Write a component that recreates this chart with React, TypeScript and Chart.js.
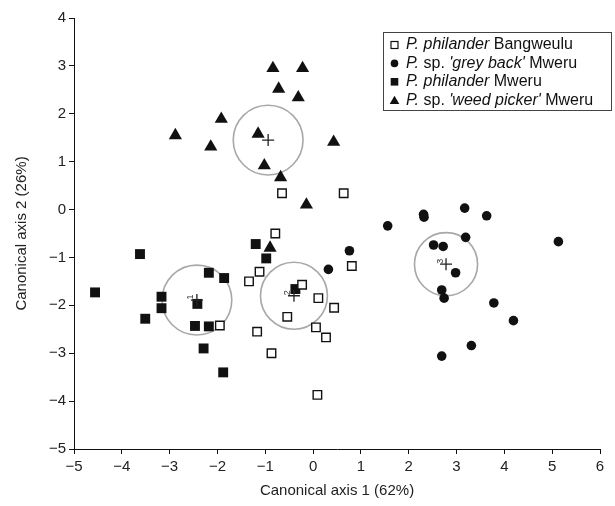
import { useEffect, useRef } from 'react';
import { Chart, registerables } from 'chart.js';

Chart.register(...registerables);

// ---- data ----
const bangweuluX = [-0.79, -1.12, -1.34, -0.23, 0.81, 0.11, 0.44, -0.54, 0.06, 0.27, -1.17, -0.87, 0.09, -1.95, -0.65, 0.64];
const bangweuluY = [-0.50, -1.30, -1.50, -1.57, -1.18, -1.85, -2.05, -2.24, -2.46, -2.67, -2.55, -3.00, -3.87, -2.42, 0.34, 0.34];

const greyBackX = [1.56, 2.31, 2.32, 3.17, 3.63, 5.13, 3.19, 2.52, 2.72, 2.98, 2.69, 2.74, 3.78, 4.19, 3.31, 2.69, 0.76, 0.32];
const greyBackY = [-0.34, -0.10, -0.16, 0.03, -0.13, -0.67, -0.58, -0.74, -0.77, -1.32, -1.68, -1.85, -1.95, -2.32, -2.84, -3.06, -0.86, -1.25];

const philMweruX = [-3.62, -4.56, -2.18, -1.86, -3.17, -3.17, -3.51, -2.42, -2.47, -2.18, -2.29, -1.88, -1.20, -0.98, -0.37];
const philMweruY = [-0.93, -1.73, -1.32, -1.43, -1.82, -2.06, -2.28, -1.97, -2.43, -2.44, -2.90, -3.40, -0.72, -1.02, -1.66];

const weedX = [-0.84, -0.22, -0.72, -0.31, -1.92, -2.88, -2.14, -1.15, 0.43, -1.02, -0.68, -0.14, -0.90];
const weedY = [2.95, 2.95, 2.52, 2.34, 1.89, 1.55, 1.31, 1.58, 1.41, 0.92, 0.67, 0.10, -0.80];

const centroidX = [-2.43, -0.40, 2.78, -0.94];
const centroidY = [-1.89, -1.80, -1.14, 1.45];
const centroidR = [0.73, 0.70, 0.66, 0.73];
const centroidLabels = ['1', '2', '3', ''];

const xMin = -5, xMax = 6, yMin = -5, yMax = 4;
const xTitle = 'Canonical axis 1 (62%)';
const yTitle = 'Canonical axis 2 (26%)';

// legend text segments: [text, italic]
const legendBangweulu: [string, boolean][] = [['P. philander', true], [' Bangweulu', false]];
const legendGreyBack: [string, boolean][] = [['P.', true], [' sp. ', false], ["'grey back'", true], [' Mweru', false]];
const legendPhilMweru: [string, boolean][] = [['P. philander', true], [' Mweru', false]];
const legendWeed: [string, boolean][] = [['P.', true], [' sp. ', false], ["'weed picker'", true], [' Mweru', false]];

const FONT = '"Liberation Sans", Arial, Helvetica, sans-serif';

const toPts = (xs: number[], ys: number[]) => xs.map((x, i) => ({ x, y: ys[i] }));
const minus = (v: number | string) => String(v).replace('-', '\u2212');

const circlesPlugin = {
  id: 'centroidCircles',
  beforeDatasetsDraw(chart: any) {
    const { ctx, scales } = chart;
    const xs = scales.x, ys = scales.y;
    ctx.save();
    ctx.strokeStyle = '#a8a8a8';
    ctx.lineWidth = 1.6;
    centroidX.forEach((cx, i) => {
      const px = xs.getPixelForValue(cx);
      const py = ys.getPixelForValue(centroidY[i]);
      const r = xs.getPixelForValue(cx + centroidR[i]) - px;
      ctx.beginPath();
      ctx.arc(px, py, r, 0, Math.PI * 2);
      ctx.stroke();
    });
    ctx.restore();
  },
  afterDatasetsDraw(chart: any) {
    const { ctx, scales } = chart;
    const xs = scales.x, ys = scales.y;
    ctx.save();
    ctx.fillStyle = '#333';
    ctx.font = `9px ${FONT}`;
    ctx.textAlign = 'center';
    ctx.textBaseline = 'middle';
    centroidX.forEach((cx, i) => {
      if (!centroidLabels[i]) return;
      const px = xs.getPixelForValue(cx);
      const py = ys.getPixelForValue(centroidY[i]);
      ctx.save();
      ctx.translate(px - 6, py - 3);
      ctx.rotate(-Math.PI / 2);
      ctx.fillText(centroidLabels[i], 0, 0);
      ctx.restore();
    });
    ctx.restore();
  },
};

const drawMarker = (ctx: CanvasRenderingContext2D, kind: string, x: number, y: number) => {
  ctx.save();
  ctx.fillStyle = '#111';
  ctx.strokeStyle = '#111';
  ctx.lineWidth = 1.2;
  if (kind === 'open') {
    ctx.fillStyle = '#fff';
    ctx.fillRect(x - 3.5, y - 3.5, 7, 7);
    ctx.strokeRect(x - 3.5, y - 3.5, 7, 7);
  } else if (kind === 'circle') {
    ctx.beginPath();
    ctx.arc(x, y, 3.8, 0, Math.PI * 2);
    ctx.fill();
  } else if (kind === 'square') {
    ctx.fillRect(x - 3.8, y - 3.8, 7.6, 7.6);
  } else {
    ctx.beginPath();
    ctx.moveTo(x, y - 4.5);
    ctx.lineTo(x + 4.8, y + 3.8);
    ctx.lineTo(x - 4.8, y + 3.8);
    ctx.closePath();
    ctx.fill();
  }
  ctx.restore();
};

const legendPlugin = {
  id: 'mixedLegend',
  afterDraw(chart: any) {
    const { ctx } = chart;
    const rows: [string, [string, boolean][]][] = [
      ['open', legendBangweulu],
      ['circle', legendGreyBack],
      ['square', legendPhilMweru],
      ['triangle', legendWeed],
    ];
    const left = 383, top = 32, width = 228, height = 78, rowH = 18.4;
    ctx.save();
    ctx.fillStyle = '#fff';
    ctx.fillRect(left, top, width, height);
    ctx.strokeStyle = '#444';
    ctx.lineWidth = 1;
    ctx.strokeRect(left + 0.5, top + 0.5, width, height);
    ctx.textBaseline = 'middle';
    ctx.textAlign = 'left';
    rows.forEach(([kind, segs], i) => {
      const y = top + 13 + i * rowH;
      drawMarker(ctx, kind, left + 11.5, y);
      let x = left + 23;
      segs.forEach(([t, it]) => {
        ctx.font = `${it ? 'italic ' : ''}16px ${FONT}`;
        ctx.fillStyle = '#111';
        ctx.fillText(t, x, y);
        x += ctx.measureText(t).width;
      });
    });
    ctx.restore();
  },
};

export default function App() {
  const ref = useRef<HTMLCanvasElement | null>(null);
  useEffect(() => {
    if (!ref.current) return;
    const chart = new Chart(ref.current, {
      type: 'scatter',
      data: {
        datasets: [
          {
            label: 'centroids',
            data: toPts(centroidX, centroidY),
            pointStyle: 'cross',
            pointRadius: 6,
            borderColor: '#222',
            borderWidth: 1.3,
            backgroundColor: '#222',
          },
          {
            label: 'P. philander Bangweulu',
            data: toPts(bangweuluX, bangweuluY),
            pointStyle: 'rect',
            pointRadius: 6,
            backgroundColor: '#fff',
            borderColor: '#111',
            borderWidth: 1.4,
          },
          {
            label: "P. sp. 'grey back' Mweru",
            data: toPts(greyBackX, greyBackY),
            pointStyle: 'circle',
            pointRadius: 4.8,
            backgroundColor: '#111',
            borderColor: '#111',
            borderWidth: 0,
          },
          {
            label: 'P. philander Mweru',
            data: toPts(philMweruX, philMweruY),
            pointStyle: 'rect',
            pointRadius: 7,
            backgroundColor: '#111',
            borderColor: '#111',
            borderWidth: 0,
          },
          {
            label: "P. sp. 'weed picker' Mweru",
            data: toPts(weedX, weedY),
            pointStyle: 'triangle',
            pointRadius: 7.6,
            backgroundColor: '#111',
            borderColor: '#111',
            borderWidth: 0,
          },
        ],
      },
      options: {
        animation: false,
        responsive: false,
        maintainAspectRatio: false,
        layout: { padding: { left: 0, right: 15, top: 18, bottom: 0 } },
        plugins: { legend: { display: false }, tooltip: { enabled: false } },
        scales: {
          x: {
            type: 'linear',
            min: xMin,
            max: xMax,
            afterFit: (s: any) => { s.height = 57; },
            ticks: {
              stepSize: 1,
              color: '#222',
              padding: 4,
              font: { family: FONT, size: 15 },
              callback: (v: any) => minus(v),
            },
            grid: { display: true, drawOnChartArea: false, drawTicks: true, tickLength: 5, color: '#111' },
            border: { display: true, color: '#111', width: 1 },
            title: {
              display: true,
              text: xTitle,
              color: '#222',
              font: { family: FONT, size: 15 },
              padding: { top: 0, bottom: 6 },
            },
          },
          y: {
            type: 'linear',
            min: yMin,
            max: yMax,
            afterFit: (s: any) => { s.width = 74; },
            ticks: {
              stepSize: 1,
              color: '#222',
              padding: 3,
              font: { family: FONT, size: 15 },
              callback: (v: any) => minus(v),
            },
            grid: { display: true, drawOnChartArea: false, drawTicks: true, tickLength: 5, color: '#111' },
            border: { display: true, color: '#111', width: 1 },
            title: {
              display: true,
              text: yTitle,
              color: '#222',
              font: { family: FONT, size: 15 },
              padding: { top: 13, bottom: 0 },
            },
          },
        },
      },
      plugins: [circlesPlugin, legendPlugin],
    });
    return () => chart.destroy();
  }, []);
  return (
    <div style={{ position: 'fixed', left: 0, top: 0, width: 615, height: 506, background: '#fff' }}>
      <canvas ref={ref} width={615} height={506} style={{ width: 615, height: 506, display: 'block' }} />
    </div>
  );
}
